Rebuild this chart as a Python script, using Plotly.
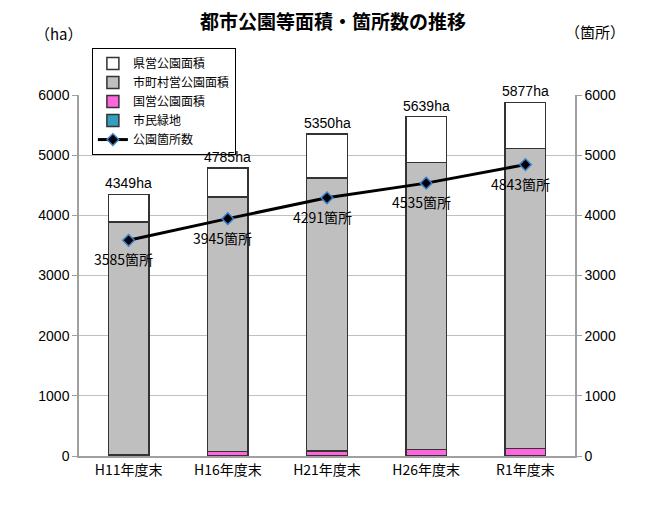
import plotly.graph_objects as go

categories = ["H11年度末", "H16年度末", "H21年度末", "H26年度末", "R1年度末"]
kokuei = [20, 72, 83, 105, 121]          # 国営公園面積
shimin = [0, 0, 0, 0, 0]                 # 市民緑地
shichoson = [3866, 4232, 4537, 4776, 4987]  # 市町村営公園面積
kenei = [463, 481, 730, 758, 769]        # 県営公園面積
totals = [4349, 4785, 5350, 5639, 5877]  # 合計面積 (ha)
counts = [3585, 3945, 4291, 4535, 4843]  # 公園箇所数

FONT = "Noto Sans CJK JP"
edge = dict(color="#333333", width=1.5)

fig = go.Figure()
fig.add_trace(go.Bar(x=categories, y=kokuei, name="国営公園面積", legendrank=3,
                     marker=dict(color="#ff66dd", line=edge), width=0.41))
fig.add_trace(go.Bar(x=categories, y=shimin, name="市民緑地", legendrank=4,
                     marker=dict(color="#33a0c0", line=edge), width=0.41))
fig.add_trace(go.Bar(x=categories, y=shichoson, name="市町村営公園面積", legendrank=2,
                     marker=dict(color="#bfbfbf", line=edge), width=0.41))
fig.add_trace(go.Bar(x=categories, y=kenei, name="県営公園面積", legendrank=1,
                     marker=dict(color="#ffffff", line=edge), width=0.41))
fig.add_trace(go.Scatter(x=categories, y=counts, name="公園箇所数", legendrank=5,
                         yaxis="y2", mode="lines+markers", cliponaxis=False,
                         line=dict(color="#000000", width=3),
                         marker=dict(symbol="diamond", size=9, color="#000000",
                                     line=dict(color="#3b7fd0", width=1.5))))

annotations = [
    dict(text="（ha）", xref="paper", yref="paper", x=-0.04, y=1.17,
         xanchor="center", yanchor="middle", showarrow=False,
         font=dict(size=15, family=FONT)),
    dict(text="（箇所）", xref="paper", yref="paper", x=1.04, y=1.175,
         xanchor="center", yanchor="middle", showarrow=False,
         font=dict(size=15, family=FONT)),
]
for c, v in zip(categories, totals):
    annotations.append(dict(x=c, y=v, xref="x", yref="y", text=f"{v}ha",
                            showarrow=False, xanchor="center", yanchor="bottom",
                            yshift=1,
                            font=dict(size=14, family="Liberation Sans", color="#000000")))
for c, v in zip(categories, counts):
    annotations.append(dict(x=c, y=v, xref="x", yref="y2", text=f"{v}箇所",
                            showarrow=False, xanchor="center", yanchor="middle",
                            xshift=-5, yshift=-19,
                            font=dict(size=14, family=FONT, color="#000000")))

fig.update_layout(
    width=650, height=507,
    barmode="stack",
    paper_bgcolor="#ffffff", plot_bgcolor="#ffffff",
    margin=dict(l=71, r=83, t=87, b=59, autoexpand=False),
    font=dict(family=FONT, size=12, color="#000000"),
    title=dict(text="<b>都市公園等面積・箇所数の推移</b>", x=0.5, xanchor="center",
               y=0.972, yanchor="middle", font=dict(size=19, family=FONT, color="#000000")),
    xaxis=dict(showline=True, linecolor="#a0a0a0", linewidth=1.5, ticks="",
               tickfont=dict(size=14, family=FONT)),
    yaxis=dict(range=[0, 6000], dtick=1000, showgrid=True, gridcolor="#c0c0c0",
               gridwidth=1, showline=True, linecolor="#a0a0a0", linewidth=1.5,
               ticks="outside", ticklen=5, tickcolor="#a0a0a0", zeroline=False,
               tickfont=dict(size=14, family="Liberation Sans")),
    yaxis2=dict(range=[0, 6000], dtick=1000, overlaying="y", side="right",
                showgrid=False, showline=True, linecolor="#a0a0a0", linewidth=1.5,
                ticks="outside", ticklen=5, tickcolor="#a0a0a0", zeroline=False,
                tickfont=dict(size=14, family="Liberation Sans")),
    legend=dict(x=0.026, y=1.13, xanchor="left", yanchor="top", traceorder="normal",
                bordercolor="#000000", borderwidth=1, bgcolor="#ffffff",
                font=dict(size=12, family=FONT), tracegroupgap=0, itemwidth=30),
    showlegend=True,
    annotations=annotations,
)

fig.write_html("out.html")
